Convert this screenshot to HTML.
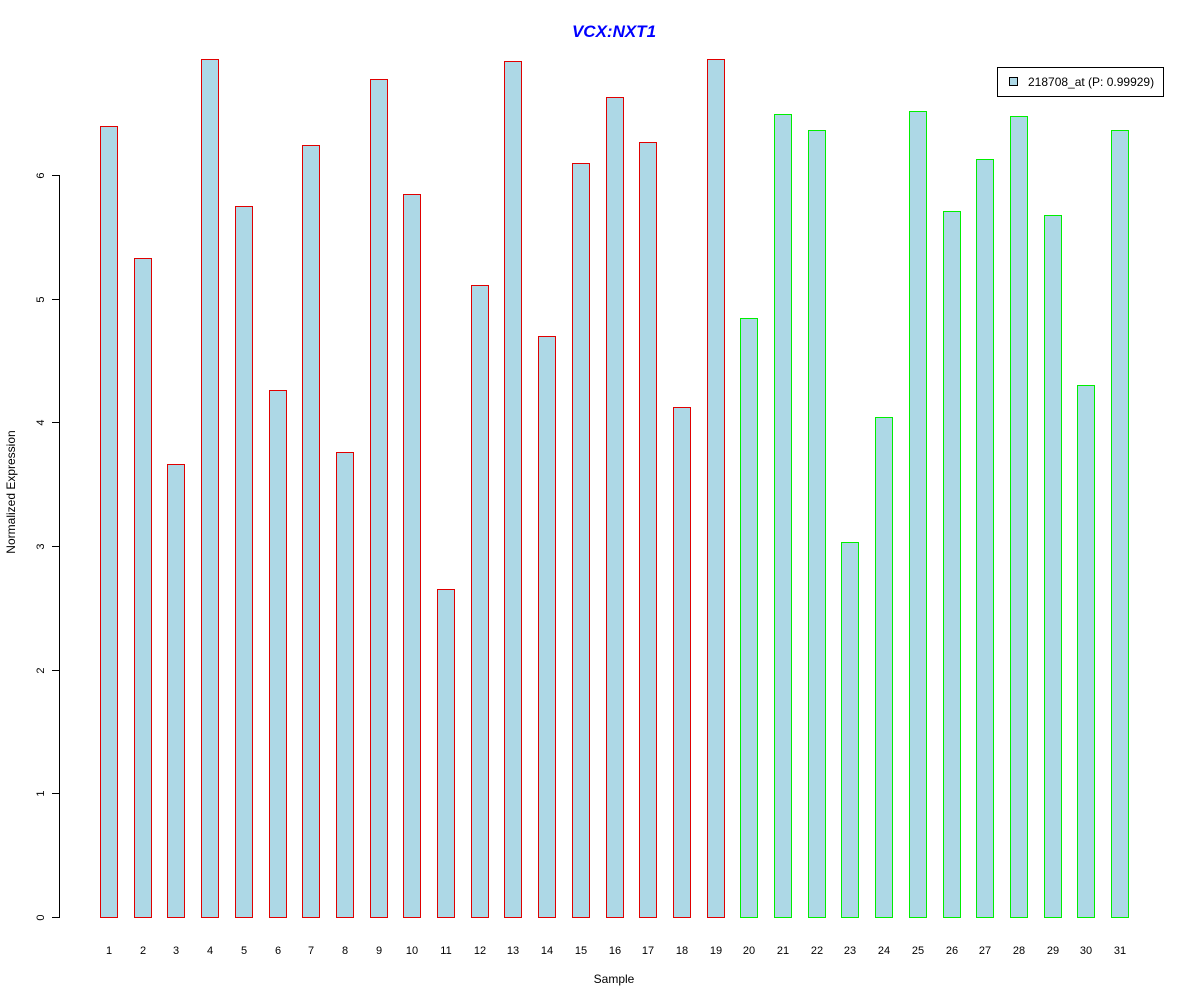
<!DOCTYPE html>
<html><head><meta charset="utf-8"><style>
html,body{margin:0;padding:0;background:#fff;}
svg{display:block;font-family:"Liberation Sans",Arial,sans-serif;}
</style></head><body>
<svg id="chart" width="1200" height="1000">
<text x="614" y="37" text-anchor="middle" font-size="17" font-weight="bold" font-style="italic" fill="#0000ff">VCX:NXT1</text>
<text x="614" y="983" text-anchor="middle" font-size="12">Sample</text>
<text transform="translate(15,492) rotate(-90)" text-anchor="middle" font-size="12">Normalized Expression</text>
<g id="yaxis"></g>
<g id="bars"></g>
<g id="xlabels"></g>
<g>
<rect x="997.5" y="67.5" width="166" height="29" fill="#fff" stroke="#000"/>
<rect x="1009.5" y="77.5" width="8" height="8" fill="#add8e6" stroke="#000"/>
<text x="1028" y="86" font-size="12">218708_at (P: 0.99929)</text>
</g>
</svg>
<script>
const categories = ["1","2","3","4","5","6","7","8","9","10","11","12","13","14","15","16","17","18","19","20","21","22","23","24","25","26","27","28","29","30","31"];
const values = [6.40,5.33,3.66,6.94,5.75,4.26,6.24,3.76,6.78,5.85,2.65,5.11,6.92,4.70,6.10,6.63,6.27,4.12,6.94,4.84,6.49,6.36,3.03,4.04,6.52,5.71,6.13,6.48,5.68,4.30,6.36];
const groups = ["a","a","a","a","a","a","a","a","a","a","a","a","a","a","a","a","a","a","a","b","b","b","b","b","b","b","b","b","b","b","b"];
const yTicks = [0,1,2,3,4,5,6];
const NS = "http://www.w3.org/2000/svg";
function yScale(v){ return 917 - v * 123.67; }
function xScale(i){ return 100 + i * 33.7; }
const bw = 17;
const ya = document.getElementById("yaxis");
const ln = document.createElementNS(NS,"line");
ln.setAttribute("x1",59.5);ln.setAttribute("x2",59.5);
ln.setAttribute("y1",yScale(yTicks[yTicks.length-1]));ln.setAttribute("y2",yScale(yTicks[0]));
ln.setAttribute("stroke","#000");


ya.appendChild(ln);
yTicks.forEach(t=>{
  const y = Math.round(yScale(t))+0.5;
  const tk = document.createElementNS(NS,"line");
  tk.setAttribute("x1",52);tk.setAttribute("x2",60);tk.setAttribute("y1",y);tk.setAttribute("y2",y);tk.setAttribute("stroke","#000");
  
  
  ya.appendChild(tk);
  const tx = document.createElementNS(NS,"text");
  tx.setAttribute("transform",`translate(44,${y}) rotate(-90)`);
  tx.setAttribute("text-anchor","middle");tx.setAttribute("font-size","11");
  tx.textContent = t;
  
  
  ya.appendChild(tx);
});
const bg = document.getElementById("bars"), xl = document.getElementById("xlabels");
values.forEach((v,i)=>{
  const x = Math.round(xScale(i))+0.5, y = Math.round(yScale(v))+0.5;
  const r = document.createElementNS(NS,"rect");
  r.setAttribute("x",x);r.setAttribute("y",y);r.setAttribute("width",bw);r.setAttribute("height",Math.round(yScale(0))+0.5-y);
  r.setAttribute("fill","#add8e6");r.setAttribute("stroke",groups[i]==="a"?"#e00000":"#00ee00");
  
  
  bg.appendChild(r);
  const t = document.createElementNS(NS,"text");
  t.setAttribute("x",x+bw/2);t.setAttribute("y",954);t.setAttribute("text-anchor","middle");t.setAttribute("font-size","11");
  t.textContent = categories[i];
  
  
  xl.appendChild(t);
});
</script>
</body></html>
